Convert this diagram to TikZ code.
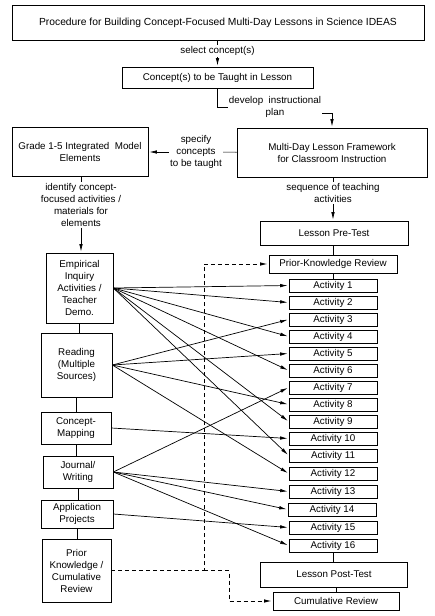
\documentclass[tikz,border=0pt]{standalone}
\usepackage{fontspec}
\setmainfont{Liberation Sans}
\usetikzlibrary{arrows.meta}

\begin{document}
\begin{tikzpicture}[x=1pt,y=-1pt,
  font=\fontsize{9.8}{12}\selectfont,
  box/.style={draw, line width=0.7pt, align=center, inner sep=0pt},
  lbl/.style={align=center, inner sep=1pt, fill=white},
  line/.style={draw, line width=0.7pt},
  link/.style={draw, line width=0.7pt, -{Latex[length=7.5pt,width=3.5pt]}, shorten >=1pt},
  back/.style={link, line width=0.9pt, dash pattern=on 4pt off 3pt}]

\useasboundingbox (0,0) rectangle (435,616);

% top of the procedure
\node[box, minimum width=412pt, minimum height=35pt, font=\fontsize{10.3}{12}\selectfont] (top) at (218,22.5) {Procedure for Building Concept-Focused Multi-Day Lessons in Science IDEAS};
\node[box, minimum width=191pt, minimum height=21pt] (concept) at (217.5,77.5) {Concept(s) to be Taught in Lesson};
\node[box, minimum width=136pt, minimum height=49pt] (grade) at (80,152) {Grade 1-5 Integrated\ \ Model\\Elements};
\node[box, minimum width=190pt, minimum height=49pt] (frame) at (332,152.5) {Multi-Day Lesson Framework\\for Classroom Instruction};

\node[lbl] (select) at (217.5,51) {select concept(s)};
\node[lbl] (develop) at (275,107) {develop\ \ instructional\\plan};
\node[lbl] (specify) at (196,152) {specify\\concepts\\to be taught};
\node[lbl] (identify) at (81,205) {identify concept-\\focused activities /\\materials for\\elements};
\node[lbl] (sequence) at (333,193) {sequence of teaching\\activities};

% right column
\node[box, minimum width=148pt, minimum height=24pt] (pretest) at (334,233) {Lesson Pre-Test};
\node[box, minimum width=128pt, minimum height=18pt] (pkr) at (333,264) {Prior-Knowledge Review};
\node[box, minimum width=88pt, minimum height=13pt] (a1) at (333,285.5) {Activity 1};
\node[box, minimum width=88pt, minimum height=13pt] (a2) at (333,302.5) {Activity 2};
\node[box, minimum width=88pt, minimum height=13pt] (a3) at (333,319.5) {Activity 3};
\node[box, minimum width=88pt, minimum height=13pt] (a4) at (333,336.5) {Activity 4};
\node[box, minimum width=88pt, minimum height=13pt] (a5) at (333,353.5) {Activity 5};
\node[box, minimum width=88pt, minimum height=13pt] (a6) at (333,370.5) {Activity 6};
\node[box, minimum width=88pt, minimum height=13pt] (a7) at (333,387.5) {Activity 7};
\node[box, minimum width=88pt, minimum height=13pt] (a8) at (333,404.5) {Activity 8};
\node[box, minimum width=88pt, minimum height=13pt] (a9) at (333,421.5) {Activity 9};
\node[box, minimum width=88pt, minimum height=13pt] (a10) at (333,438.5) {Activity 10};
\node[box, minimum width=88pt, minimum height=13pt] (a11) at (333,455.5) {Activity 11};
\node[box, minimum width=88pt, minimum height=13pt] (a12) at (333,473.5) {Activity 12};
\node[box, minimum width=88pt, minimum height=13pt] (a13) at (333,491.5) {Activity 13};
\node[box, minimum width=88pt, minimum height=13pt] (a14) at (332,509.5) {Activity 14};
\node[box, minimum width=88pt, minimum height=13pt] (a15) at (333,527.5) {Activity 15};
\node[box, minimum width=88pt, minimum height=13pt] (a16) at (333,545.5) {Activity 16};
\node[box, minimum width=147pt, minimum height=25pt] (posttest) at (334,574.5) {Lesson Post-Test};
\node[box, minimum width=126pt, minimum height=18pt] (cumrev) at (336,601) {Cumulative Review};

% left column
\node[box, minimum width=67pt, minimum height=70pt] (emp) at (79.5,288) {Empirical\\Inquiry\\Activities /\\Teacher\\Demo.};
\node[box, minimum width=71pt, minimum height=64pt] (read) at (76.5,365) {Reading\\(Multiple\\Sources)};
\node[box, minimum width=70pt, minimum height=32pt] (cmap) at (76,428) {Concept-\\Mapping};
\node[box, minimum width=70pt, minimum height=32pt] (journal) at (78,472) {Journal/\\Writing};
\node[box, minimum width=72pt, minimum height=28pt] (app) at (77,514) {Application\\Projects};
\node[box, minimum width=69pt, minimum height=63pt] (prior) at (76.5,570.5) {Prior\\Knowledge /\\Cumulative\\Review};

\coordinate (dv) at (204,0);
\coordinate (dw) at (229,0);

\path[line] (top.south -| select) -- (select);
\path[link] (select) -- (select |- concept.north);
\path[line] (concept.south) |- (develop.west);
\path[link] ([yshift=-6pt]develop.east) -| (frame.north);
\path[line] (frame) -- (specify);
\path[link] (specify) -- (grade);
\path[line] (grade.south -| identify) -- (identify);
\path[link] (identify) -- (identify |- emp.north);
\path[line] (frame.south -| sequence) -- (sequence);
\path[link] (sequence) -- (sequence |- pretest.north);

\path[line] (pretest.south -| pkr) -- (pkr.north);
\path[line] (pkr) -- (a1);
\path[line] (a16) -- (a16 |- posttest.north);
\path[line] (posttest.south -| cumrev) -- (cumrev.north);

\path[line] (emp.south) -- (emp.south |- read.north);
\path[line] (read.south) -- (read.south |- cmap.north);
\path[line] (cmap.south) -- (cmap.south |- journal.north);
\path[line] (journal.south) -- (journal.south |- app.north);
\path[line] (app.south) -- (app.south |- prior.north);

\path[link] (emp.east) -- (a1.west);
\path[link] (emp.east) -- (a2.west);
\path[link] (emp.east) -- (a4.west);
\path[link] (emp.east) -- (a6.west);
\path[link] (emp.east) -- (a9.west);
\path[link] (emp.east) -- (a11.west);
\path[link] (read.east) -- (a3.west);
\path[link] (read.east) -- (a5.west);
\path[link] (read.east) -- (a8.west);
\path[link] (read.east) -- (a12.west);
\path[link] (cmap.east) -- (a10.west);
\path[link] (journal.east) -- (a7.west);
\path[link] (journal.east) -- (a13.west);
\path[link] (journal.east) -- (a14.west);
\path[link] (journal.east) -- (a16.west);
\path[link] (app.east) -- (a15.west);

\path[back] (prior.east) -- (prior.east -| dv) |- (pkr.west);
\path[back] (prior.east -| dv) -- (prior.east -| dw) |- (cumrev.west);
\end{tikzpicture}
\end{document}
